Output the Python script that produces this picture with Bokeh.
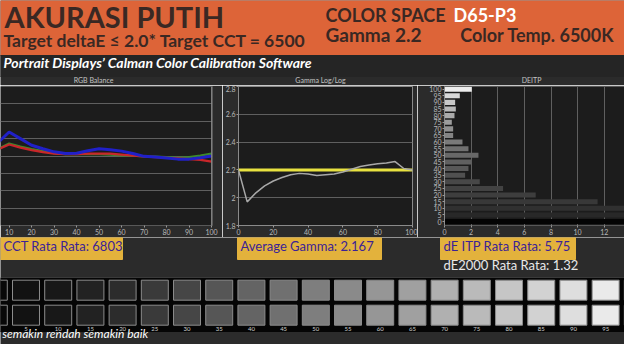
from bokeh.plotting import figure
from bokeh.layouts import column, row
from bokeh.models import Range1d, FixedTicker, Span, Grid
from bokeh.core.properties import value
from bokeh.embed import file_html
from bokeh.resources import INLINE

# ---------------- data ----------------
levels = [0, 5, 10, 15, 20, 25, 30, 35, 40, 45, 50, 55, 60, 65, 70, 75, 80, 85, 90, 95, 100]
level_labels = [str(v) for v in levels]

rgb_red = [100.5, 101.9, 103.3, 102.4, 101.7, 101.1, 100.7, 100.5, 100.5, 100.7, 100.7,
           100.7, 100.4, 100.1, 99.9, 99.7, 99.5, 99.3, 99.1, 98.9, 98.4]
rgb_green = [100.5, 102.0, 103.6, 102.7, 102.0, 101.4, 100.8, 100.5, 100.5, 100.5, 100.5,
             100.4, 100.2, 100.1, 99.9, 99.8, 99.7, 99.5, 99.7, 100.1, 100.7]
rgb_blue = [100.8, 103.8, 106.9, 105.0, 103.1, 102.1, 101.2, 100.7, 100.8, 101.5, 102.1,
            101.8, 101.4, 100.7, 99.9, 99.7, 99.4, 99.1, 99.1, 99.5, 100.0]
rgb_xticks = [10, 20, 30, 40, 50, 60, 70, 80, 90, 100]
rgb_ygrid = [80, 85, 90, 95, 100, 105, 110, 115, 120]

gamma_vals = [2.20, 1.97, 2.035, 2.085, 2.12, 2.145, 2.165, 2.175, 2.17, 2.16, 2.165,
              2.17, 2.185, 2.205, 2.225, 2.235, 2.245, 2.25, 2.26, 2.21, 2.20]
gamma_target = 2.2
gamma_xticks = [0, 20, 40, 60, 80, 100]
gamma_yticks = [1.8, 2.0, 2.2, 2.4, 2.6, 2.8]
gamma_ylabels = {1.8: "1.8", 2.0: "2", 2.2: "2.2", 2.4: "2.4", 2.6: "2.6", 2.8: "2.8"}

deitp_vals = [30.0, 24.0, 18.0, 11.5, 6.85, 4.4, 2.65, 1.55, 1.8, 2.0, 2.55,
              1.8, 1.35, 0.65, 0.65, 0.55, 0.75, 0.85, 0.8, 1.15, 2.05]
deitp_xticks = [0, 2, 4, 6, 8, 10, 12, 14]

swatch_gray = [8, 18, 24, 34, 44, 58, 70, 86, 100, 112, 126, 138, 150, 160, 176,
               186, 198, 210, 222, 234, 248]
bar_gray = [4, 40, 48, 56, 62, 66, 72, 80, 88, 96, 104, 112, 122, 132, 144,
            156, 170, 184, 200, 216, 236]

cct_avg = 6803
gamma_avg = 2.167
deitp_avg = 5.75
de2000_avg = 1.32

title_main = "AKURASI PUTIH"
title_sub = "Target deltaE \u2264 2.0* Target CCT = 6500"
band_text = "Portrait Displays\u2019 Calman Color Calibration Software"
footer_text = "semakin rendah semakin baik"

# ---------------- styles ----------------
BG = "#2b2b2b"
FRAME = "#1c1c1c"
GRID = "#5f5f5f"
TICK = "#b8b8b8"
ORANGE = "#dd6438"
BROWN = "#3a2823"
GOLD = "#e3b23c"
PURPLE = "#3b2296"
FONT = "Lato"

gray_hex = ["#%02x%02x%02x" % (g, g, g) for g in swatch_gray]
bar_hex = ["#%02x%02x%02x" % (g, g, g) for g in bar_gray]


def decor(w, h, xr, yr):
    p = figure(width=w, height=h, x_range=xr, y_range=yr, toolbar_location=None,
               output_backend="svg", x_axis_location=None, y_axis_location=None,
               min_border=0)
    p.grid.visible = False
    p.outline_line_color = None
    p.background_fill_color = BG
    p.border_fill_color = BG
    return p


def chart(w, h, xr, yr, left, right, yaxis=True):
    p = figure(width=w, height=h, x_range=xr, y_range=yr, toolbar_location=None,
               output_backend="svg", y_axis_location="left" if yaxis else None,
               min_border_left=left, min_border_right=right, min_border_top=1,
               min_border_bottom=11)
    p.background_fill_color = FRAME
    p.border_fill_color = BG
    p.grid.visible = False
    for ax in p.axis:
        ax.axis_line_color = None
        ax.major_tick_line_color = "#9a9a9a"
        ax.major_tick_out = 2
        ax.major_tick_in = 0
        ax.minor_tick_line_color = None
        ax.major_label_text_font_size = "7px"
        ax.major_label_text_color = TICK
        ax.major_label_text_font = FONT
        ax.major_label_standoff = 1
    return p


# ---------------- header ----------------
hdr = decor(624, 85, Range1d(8, 632), Range1d(93, 8))
hdr.quad(left=0, right=640, top=0, bottom=63, color=ORANGE)
hdr.quad(left=0, right=640, top=63, bottom=84, color="#252525")
hdr.text(x=[12], y=[41], text=[title_main], text_font=value(FONT), text_font_style="bold",
         text_font_size="29px", text_color=BROWN)
hdr.text(x=[11], y=[58], text=[title_sub], text_font=value(FONT), text_font_style="bold",
         text_font_size="17.5px", text_color=BROWN)
hdr.text(x=[333], y=[33], text=["COLOR SPACE"], text_font=value(FONT), text_font_style="bold",
         text_font_size="18px", text_color=BROWN)
hdr.text(x=[461], y=[33], text=["D65-P3"], text_font=value(FONT), text_font_style="bold",
         text_font_size="18px", text_color="#ffffff")
hdr.text(x=[333], y=[53], text=["Gamma 2.2"], text_font=value(FONT), text_font_style="bold",
         text_font_size="19px", text_color=BROWN)
hdr.text(x=[622], y=[53], text=["Color Temp. 6500K"], text_font=value(FONT),
         text_font_style="bold", text_font_size="18px", text_color=BROWN, text_align="right")
hdr.text(x=[11], y=[78], text=[band_text], text_font=value(FONT),
         text_font_style="bold italic", text_font_size="14px", text_color="#ffffff")
hdr.text(x=[101, 328, 539], y=[91, 91, 91], text=["RGB Balance", "Gamma Log/Log", "DEITP"],
         text_font=value(FONT), text_font_size="7px", text_color="#c4c4c4", text_align="center")

# ---------------- RGB balance ----------------
p1 = chart(222, 152, Range1d(6.16, 100.4), Range1d(80, 120), 0, 10, yaxis=False)
p1.xaxis.ticker = FixedTicker(ticks=rgb_xticks)
p1.outline_line_color = None
p1.add_layout(Grid(dimension=1, ticker=FixedTicker(ticks=rgb_ygrid), grid_line_color=GRID))
p1.add_layout(Span(location=100, dimension="height", line_color="#8a8a8a", line_width=1))
p1.line(levels, rgb_green, line_color="#3d8a2a", line_width=2.2)
p1.line(levels, rgb_red, line_color="#c8262a", line_width=2.2)
p1.line(levels, rgb_blue, line_color="#2020c8", line_width=3)

# ---------------- Gamma ----------------
p2 = chart(195, 152, Range1d(0, 100), Range1d(1.8, 2.8), 16, 5)
p2.xaxis.ticker = FixedTicker(ticks=gamma_xticks)
p2.yaxis.ticker = FixedTicker(ticks=gamma_yticks)
p2.yaxis.major_label_overrides = gamma_ylabels
p2.outline_line_color = "#8a8a8a"
p2.add_layout(Grid(dimension=1, ticker=FixedTicker(ticks=gamma_yticks[1:-1]), grid_line_color=GRID))
p2.line([gamma_xticks[0], gamma_xticks[-1]], [gamma_target, gamma_target],
        line_color="#e8e240", line_width=3)
p2.line(levels, gamma_vals, line_color="#a8a8a8", line_width=1.5)

# ---------------- DEITP ----------------
p3 = chart(207, 152, Range1d(0, 13.52), Range1d(-3, 102), 27, 0)
p3.xaxis.ticker = FixedTicker(ticks=deitp_xticks)
p3.yaxis.ticker = FixedTicker(ticks=levels)
p3.yaxis.axis_line_color = "#8a8a8a"
p3.outline_line_color = None
p3.add_layout(Grid(dimension=0, ticker=FixedTicker(ticks=deitp_xticks[1:]), grid_line_color=GRID))
p3.hbar(y=levels, left=0, right=deitp_vals, height=3.8, fill_color=bar_hex, line_color=None)

# ---------------- summary labels ----------------
lab = decor(624, 40, Range1d(8, 632), Range1d(285, 245))
lab.quad(left=[0, 245, 448], right=[130, 389, 583], top=[245, 245, 245],
         bottom=[267, 267, 267], color=GOLD)
lab.text(x=[11, 248, 451], y=[261.5, 261.5, 261.5],
         text=["CCT Rata Rata: %d" % cct_avg, "Average Gamma: %.3f" % gamma_avg,
               "dE ITP Rata Rata: %.2f" % deitp_avg],
         text_font=value(FONT), text_font_size="13px", text_color=PURPLE)
lab.text(x=[451], y=[280], text=["dE2000 Rata Rata: %.2f" % de2000_avg], text_font=value(FONT),
         text_font_size="13px", text_color="#e8e8e8")

# ---------------- swatches ----------------
sw = decor(624, 67, Range1d(1.04, 97.93), Range1d(352, 285))
sw.quad(left=-10, right=110, top=285, bottom=339, color="#050505")
sw.rect(x=levels, y=297.7, width=4.19, height=20, fill_color=gray_hex, line_color="#8c8c8c")
sw.rect(x=levels, y=322.7, width=4.19, height=20, fill_color=gray_hex, line_color="#8c8c8c")
sw.text(x=levels[1:-1], y=338.5, text=level_labels[1:-1], text_font=value(FONT),
        text_font_size="6px", text_color="#d0d0d0", text_align="center")
sw.text(x=[1.3], y=[348], text=[footer_text], text_font=value(FONT),
        text_font_style="italic", text_font_size="12px", text_color="#ffffff")

layout = column(hdr, row(p1, p2, p3), lab, sw)
open("out.html", "w").write(file_html(layout, INLINE))
